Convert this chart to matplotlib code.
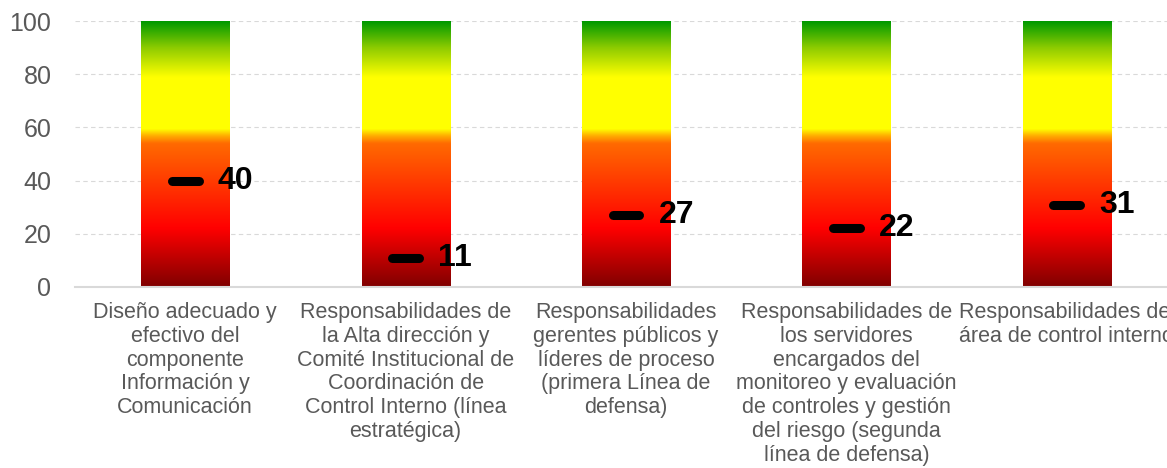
#!/usr/bin/env python3
# -*- coding: utf-8 -*
import numpy as np
import matplotlib
matplotlib.use('Agg')
import matplotlib.pyplot as plt
from matplotlib.colors import LinearSegmentedColormap

# --- data
categorias = [
    "Diseño adecuado y\nefectivo del\ncomponente\nInformación y\nComunicación",
    "Responsabilidades de\nla Alta dirección y\nComité Institucional de\nCoordinación de\nControl Interno (línea\nestratégica)",
    "Responsabilidades\ngerentes públicos y\nlíderes de proceso\n(primera Línea de\ndefensa)",
    "Responsabilidades de\nlos servidores\nencargados del\nmonitoreo y evaluación\nde controles y gestión\ndel riesgo (segunda\nlínea de defensa)",
    "Responsabilidades del\nárea de control interno",
]
puntajes = [40, 11, 27, 22, 31]
escala = [0, 100]
ticks_y = [0, 20, 40, 60, 80, 100]

# semaforo: rojo oscuro abajo -> rojo -> naranja -> amarillo -> verde arriba
semaforo = LinearSegmentedColormap.from_list('semaforo', [
    (0.00, '#800000'),
    (0.22, '#ff0000'),
    (0.54, '#ff6a00'),
    (0.57, '#ffb000'),
    (0.595, '#ffff00'),
    (0.79, '#ffff00'),
    (0.90, '#8fcc00'),
    (1.00, '#009900'),
])

plt.rcParams['font.family'] = ['Liberation Sans', 'DejaVu Sans']
fig = plt.figure(figsize=(11.67, 4.68), dpi=100)
ax = fig.add_axes([75/1167, 181/468, 1102/1167, 266/468])

x = np.arange(len(categorias))
ancho = 0.40
grad = np.linspace(0, 1, 256).reshape(-1, 1)
for xi in x:
    ax.imshow(grad, cmap=semaforo, origin='lower', aspect='auto',
              extent=[xi - ancho/2, xi + ancho/2, escala[0], escala[1]],
              interpolation='bilinear', zorder=2)

# marcas del puntaje
marcas = ax.hlines(puntajes, x - 0.061, x + 0.061, colors='black',
                   linewidth=6.5, zorder=4)
marcas.set_capstyle('round')
for xi, v in zip(x, puntajes):
    ax.text(xi + 0.147, v, str(v), fontsize=23, fontweight='bold',
            va='center', ha='left', color='black', zorder=5)

ax.set_xlim(-0.5, len(categorias) - 0.5)
ax.set_ylim(escala)
ax.set_yticks(ticks_y)
ax.set_xticks(x)
ax.set_xticklabels(categorias, fontsize=15.5, color='#595959', linespacing=1.17)
ax.tick_params(axis='y', length=0, pad=17, labelsize=18, labelcolor='#595959')
ax.tick_params(axis='x', length=0, pad=11)

ax.grid(axis='y', color='#d9d9d9', linestyle=(0, (4, 3)), linewidth=0.8, zorder=0)
ax.set_axisbelow(True)
for lado in ['top', 'right', 'left']:
    ax.spines[lado].set_visible(False)
ax.spines['bottom'].set_color('#d9d9d9')
ax.spines['bottom'].set_linewidth(1.5)

fig.savefig('out.png', dpi=100)
